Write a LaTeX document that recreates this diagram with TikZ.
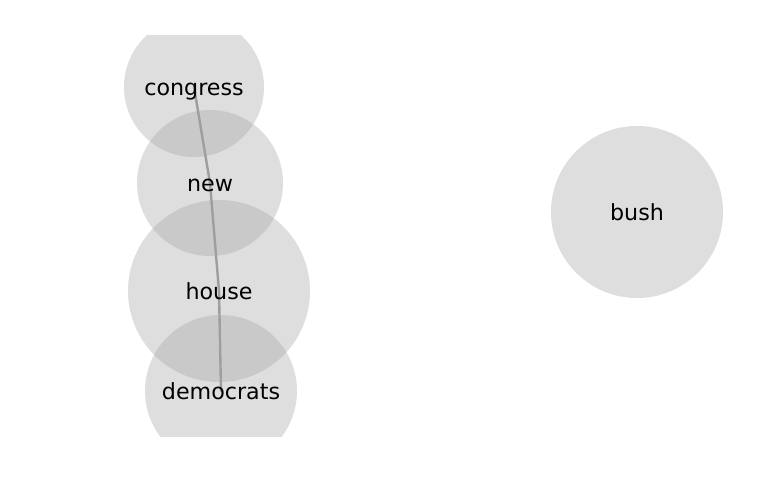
\documentclass[tikz,border=0pt]{standalone}
\usepackage{fontspec}
\setmainfont{DejaVu Sans}
\usetikzlibrary{positioning}

\begin{document}
\begin{tikzpicture}[
  x=1pt, y=-1pt,
  font=\fontsize{22.2}{26}\selectfont,
  word/.style={circle, draw=none, fill=black!34, fill opacity=0.385,
    inner sep=0pt},
  link/.style={draw=black!38, line width=2.4pt, line cap=round},
  wordlabel/.style={text=black, inner sep=0pt, anchor=base, yshift=-8.5pt},
]
\useasboundingbox (0,0) rectangle (768,500);

% ---- circles ----
\begin{scope}
  \clip (0,36) rectangle (768,436);
  \node[word, minimum size=140pt] (congress) at (194,87) {};
  \node[word, minimum size=146pt] (new) at (210,183) {};
  \node[word, minimum size=182pt] (house) at (219,291) {};
  \node[word, minimum size=152pt] (democrats) at (221,391) {};
  \node[word, minimum size=172pt] (bush) at (637,212) {};

  % ---- links ----
  \draw[link] (congress.center) -- (new.center);
  \draw[link] (new.center) -- (house.center);
  \draw[link] (house.center) -- (democrats.center);
\end{scope}

% ---- labels ----
\node[wordlabel] at (congress) {congress};
\node[wordlabel] at (new) {new};
\node[wordlabel] at (house) {house};
\node[wordlabel] at (democrats) {democrats};
\node[wordlabel] at (bush) {bush};

\end{tikzpicture}
\end{document}
